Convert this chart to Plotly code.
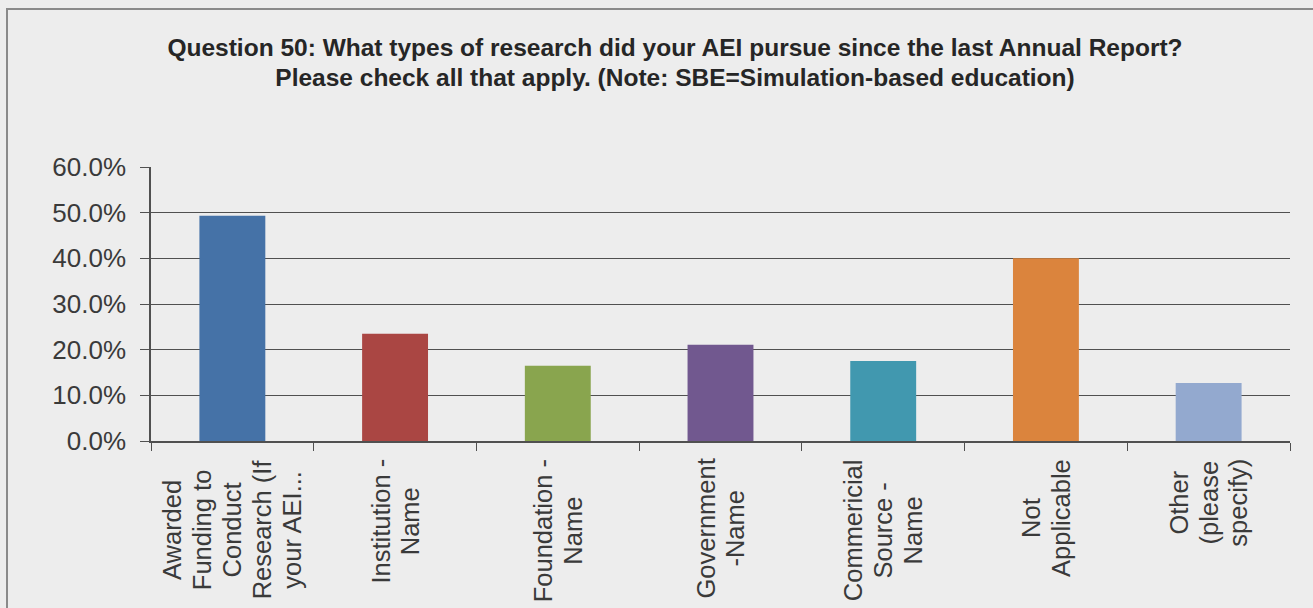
import plotly.graph_objects as go

# data
categories = [
    'Awarded<br>Funding to<br>Conduct<br>Research (If<br>your AEI...',
    'Institution -<br>Name',
    'Foundation -<br>Name',
    'Government<br>-Name',
    'Commericial<br>Source -<br>Name',
    'Not<br>Applicable',
    'Other<br>(please<br>specify)',
]
values = [0.493, 0.235, 0.165, 0.211, 0.175, 0.400, 0.127]
colors = ['#4572A7', '#AA4643', '#89A54E', '#71588F', '#4198AF', '#DB843D', '#93A9CF']
tick_vals = [0, 0.1, 0.2, 0.3, 0.4, 0.5, 0.6]

title_text = ('Question 50: What types of research did your AEI pursue since the last Annual Report?'
              '<br>Please check all that apply. (Note: SBE=Simulation-based education)')

FONT = 'Liberation Sans, Arial, sans-serif'
TXT = '#3a3a3a'
GRID = '#505050'


def tight(text, px):
    # base font sets the (smaller) line pitch, the span sets the glyph size
    return '<br>'.join(f'<span style="font-size:{px}px">{t}</span>' for t in text.split('<br>'))


fig = go.Figure()
fig.add_trace(go.Bar(x=list(range(len(categories))), y=values,
                     marker=dict(color=colors, line=dict(width=0)),
                     width=0.405, hoverinfo='y'))

# category labels, rotated and centred line by line
for i, lab in enumerate(categories):
    fig.add_annotation(x=i, y=0, xref='x', yref='paper', text=tight(lab, 25.5), textangle=-90,
                       showarrow=False, align='center', xanchor='center', yanchor='top',
                       yshift=-16, font=dict(family=FONT, size=23, color=TXT))

# outer border of the chart area
fig.add_shape(type='rect', xref='paper', yref='paper',
              x0=(7 - 151) / 1139, x1=1.2, y0=-1.0, y1=(441 - 9) / 274,
              line=dict(color='#8a8a8a', width=2), layer='below')

fig.update_layout(
    width=1313, height=608,
    margin=dict(l=151, r=23, t=167, b=167),
    paper_bgcolor='#EDEDED', plot_bgcolor='#EDEDED',
    showlegend=False,
    title=dict(text=tight(title_text, 24.5), x=675 / 1313, xref='container', xanchor='center',
               y=1 - 56 / 608, yanchor='top',
               font=dict(family=FONT, size=23, color='#262626', weight='bold')),
    xaxis=dict(range=[-0.5, len(categories) - 0.5], tickmode='array',
               tickvals=[i - 0.5 for i in range(len(categories) + 1)],
               showticklabels=False, ticks='outside', ticklen=8, tickcolor=GRID,
               showline=True, linecolor=GRID, linewidth=1.5, showgrid=False, zeroline=False),
    yaxis=dict(range=[0, 0.6], tickvals=tick_vals, tickformat='.1%',
               ticks='outside', ticklen=9, tickcolor=GRID, ticklabelstandoff=9,
               showline=True, linecolor=GRID, linewidth=1.5,
               showgrid=True, gridcolor=GRID, gridwidth=1.3, zeroline=False,
               tickfont=dict(family=FONT, size=26, color=TXT)),
)

# drop the page's default body margin so the figure sits at the window corner
fig.write_html('out.html', config={'displayModeBar': False},
               post_script="document.body.style.margin='0';")
